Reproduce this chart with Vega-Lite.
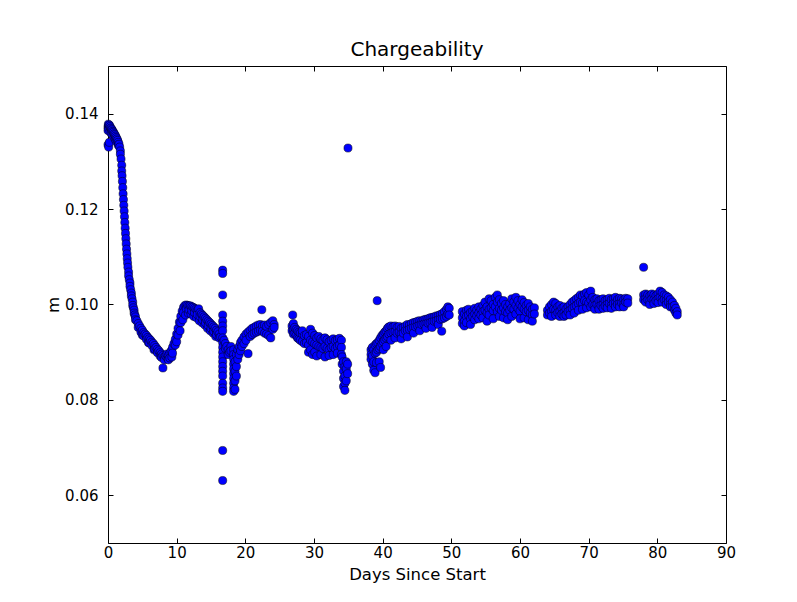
{
"$schema": "https://vega.github.io/schema/vega-lite/v6.json",
"width": 618,
"height": 477,
"autosize": {"type": "none"},
"padding": {"left": 108, "top": 66, "right": 71, "bottom": 59},
"background": "white",
"title": {"text": "Chargeability", "fontSize": 20, "font": "DejaVu Sans", "fontWeight": "normal", "color": "black", "offset": 6},
"config": {
  "view": {"stroke": "black", "strokeWidth": 1},
  "axis": {"domain": false, "grid": false, "labelFlush": false, "labelOverlap": false, "tickColor": "black", "tickSize": -5, "tickWidth": 1, "labelColor": "black", "labelFont": "DejaVu Sans", "labelFontSize": 15, "titleFont": "DejaVu Sans", "titleFontSize": 16.5, "titleFontWeight": "normal", "titleColor": "black"}
},
"data": {"values": [
{"d":0.0,"m":0.1372},{"d":0.0,"m":0.1365},{"d":0.0,"m":0.1335},{"d":0.05,"m":0.1378},{"d":0.1,"m":0.1375},{"d":0.1,"m":0.1330},{"d":0.15,"m":0.1369},{"d":0.2,"m":0.1376},{"d":0.2,"m":0.1340},{"d":0.3,"m":0.1373},{"d":0.3,"m":0.1362},{"d":0.4,"m":0.1370},{"d":0.5,"m":0.1368},{"d":0.5,"m":0.1358},{"d":0.6,"m":0.1366},{"d":0.7,"m":0.1363},{"d":0.7,"m":0.1355},{"d":0.8,"m":0.1361},{"d":0.9,"m":0.1358},{"d":0.9,"m":0.1350},{"d":1.0,"m":0.1356},{"d":1.1,"m":0.1353},{"d":1.1,"m":0.1345},{"d":1.2,"m":0.1350},{"d":1.3,"m":0.1347},{"d":1.3,"m":0.1340},{"d":1.4,"m":0.1344},{"d":1.5,"m":0.1340},{"d":1.5,"m":0.1334},{"d":1.6,"m":0.1336},{"d":1.7,"m":0.1330},{"d":1.8,"m":0.1322},{"d":1.8,"m":0.1315},{"d":1.9,"m":0.1305},{"d":2.0,"m":0.1292},{"d":2.0,"m":0.1280},{"d":2.05,"m":0.1270},{"d":2.1,"m":0.1258},{"d":2.15,"m":0.1245},{"d":2.2,"m":0.1232},{"d":2.25,"m":0.1220},{"d":2.3,"m":0.1208},{"d":2.35,"m":0.1196},{"d":2.4,"m":0.1184},{"d":2.45,"m":0.1172},{"d":2.5,"m":0.1160},{"d":2.55,"m":0.1149},{"d":2.6,"m":0.1138},{"d":2.65,"m":0.1127},{"d":2.7,"m":0.1116},{"d":2.75,"m":0.1106},{"d":2.8,"m":0.1096},{"d":2.85,"m":0.1087},{"d":2.9,"m":0.1078},{"d":3.0,"m":0.1068},{"d":3.0,"m":0.1060},{"d":3.1,"m":0.1052},{"d":3.2,"m":0.1045},{"d":3.2,"m":0.1038},{"d":3.3,"m":0.1031},{"d":3.4,"m":0.1024},{"d":3.4,"m":0.1018},{"d":3.5,"m":0.1012},{"d":3.6,"m":0.1005},{"d":3.6,"m":0.0998},{"d":3.7,"m":0.0993},{"d":3.8,"m":0.0988},{"d":3.8,"m":0.0982},{"d":3.9,"m":0.0978},{"d":4.0,"m":0.0974},{"d":4.0,"m":0.0968},{"d":4.2,"m":0.0966},{"d":4.4,"m":0.0960},{"d":4.4,"m":0.0952},{"d":4.6,"m":0.0955},{"d":4.8,"m":0.0950},{"d":4.8,"m":0.0942},{"d":5.0,"m":0.0946},{"d":5.0,"m":0.0936},{"d":5.2,"m":0.0941},{"d":5.2,"m":0.0934},{"d":5.4,"m":0.0938},{"d":5.6,"m":0.0935},{"d":5.6,"m":0.0927},{"d":5.8,"m":0.0931},{"d":5.9,"m":0.0920},{"d":6.0,"m":0.0928},{"d":6.0,"m":0.0920},{"d":6.2,"m":0.0925},{"d":6.4,"m":0.0921},{"d":6.4,"m":0.0914},{"d":6.6,"m":0.0918},{"d":6.7,"m":0.0905},{"d":6.8,"m":0.0914},{"d":6.8,"m":0.0907},{"d":7.0,"m":0.0910},{"d":7.2,"m":0.0906},{"d":7.2,"m":0.0899},{"d":7.4,"m":0.0903},{"d":7.6,"m":0.0899},{"d":7.6,"m":0.0892},{"d":7.8,"m":0.0896},{"d":7.8,"m":0.0889},{"d":8.0,"m":0.0893},{"d":8.0,"m":0.0867},{"d":8.2,"m":0.0890},{"d":8.2,"m":0.0884},{"d":8.4,"m":0.0892},{"d":8.6,"m":0.0889},{"d":8.6,"m":0.0896},{"d":8.8,"m":0.0893},{"d":8.8,"m":0.0884},{"d":9.0,"m":0.0898},{"d":9.0,"m":0.0888},{"d":9.2,"m":0.0903},{"d":9.3,"m":0.0890},{"d":9.4,"m":0.0910},{"d":9.4,"m":0.0898},{"d":9.6,"m":0.0918},{"d":9.8,"m":0.0927},{"d":9.8,"m":0.0915},{"d":10.0,"m":0.0938},{"d":10.0,"m":0.0922},{"d":10.2,"m":0.0950},{"d":10.2,"m":0.0936},{"d":10.4,"m":0.0963},{"d":10.5,"m":0.0945},{"d":10.6,"m":0.0975},{"d":10.6,"m":0.0962},{"d":10.8,"m":0.0986},{"d":10.9,"m":0.0968},{"d":11.0,"m":0.0994},{"d":11.0,"m":0.0983},{"d":11.2,"m":0.0998},{"d":11.3,"m":0.0978},{"d":11.4,"m":0.0999},{"d":11.4,"m":0.0991},{"d":11.6,"m":0.0998},{"d":11.7,"m":0.0982},{"d":11.8,"m":0.0997},{"d":11.8,"m":0.0989},{"d":12.0,"m":0.0997},{"d":12.1,"m":0.0980},{"d":12.2,"m":0.0995},{"d":12.2,"m":0.0987},{"d":12.4,"m":0.0994},{"d":12.5,"m":0.0975},{"d":12.6,"m":0.0992},{"d":12.6,"m":0.0983},{"d":12.8,"m":0.0990},{"d":12.9,"m":0.0972},{"d":13.0,"m":0.0988},{"d":13.0,"m":0.0979},{"d":13.2,"m":0.0991},{"d":13.3,"m":0.0966},{"d":13.4,"m":0.0983},{"d":13.4,"m":0.0975},{"d":13.6,"m":0.0980},{"d":13.7,"m":0.0962},{"d":13.8,"m":0.0977},{"d":13.8,"m":0.0968},{"d":14.0,"m":0.0974},{"d":14.1,"m":0.0957},{"d":14.2,"m":0.0971},{"d":14.2,"m":0.0962},{"d":14.4,"m":0.0968},{"d":14.5,"m":0.0950},{"d":14.6,"m":0.0965},{"d":14.6,"m":0.0956},{"d":14.8,"m":0.0962},{"d":14.9,"m":0.0945},{"d":15.0,"m":0.0959},{"d":15.0,"m":0.0950},{"d":15.2,"m":0.0956},{"d":15.3,"m":0.0940},{"d":15.4,"m":0.0953},{"d":15.4,"m":0.0944},{"d":15.6,"m":0.0950},{"d":15.7,"m":0.0933},{"d":15.8,"m":0.0946},{"d":15.8,"m":0.0937},{"d":16.0,"m":0.0943},{"d":16.2,"m":0.0938},{"d":16.2,"m":0.0930},{"d":16.4,"m":0.0932},
{"d":16.7,"m":0.1072},{"d":16.7,"m":0.1065},{"d":16.7,"m":0.1020},{"d":16.7,"m":0.0978},{"d":16.7,"m":0.0965},{"d":16.7,"m":0.0955},{"d":16.7,"m":0.0945},{"d":16.7,"m":0.0930},{"d":16.7,"m":0.0920},{"d":16.7,"m":0.0910},{"d":16.7,"m":0.0900},{"d":16.7,"m":0.0890},{"d":16.7,"m":0.0880},{"d":16.7,"m":0.0870},{"d":16.7,"m":0.0860},{"d":16.7,"m":0.0850},{"d":16.7,"m":0.0835},{"d":16.7,"m":0.0825},{"d":16.7,"m":0.0818},{"d":16.7,"m":0.0694},{"d":16.7,"m":0.0631},
{"d":16.9,"m":0.0925},{"d":17.1,"m":0.0918},{"d":17.1,"m":0.0908},{"d":17.3,"m":0.0912},{"d":17.5,"m":0.0905},{"d":17.5,"m":0.0895},{"d":17.7,"m":0.0900},{"d":17.9,"m":0.0912},{"d":17.9,"m":0.0903},
{"d":18.3,"m":0.0905},{"d":18.3,"m":0.0895},{"d":18.3,"m":0.0885},{"d":18.3,"m":0.0875},{"d":18.3,"m":0.0865},{"d":18.3,"m":0.0855},{"d":18.3,"m":0.0845},{"d":18.3,"m":0.0835},{"d":18.3,"m":0.0825},{"d":18.3,"m":0.0818},{"d":18.5,"m":0.0880},{"d":18.5,"m":0.0860},{"d":18.5,"m":0.0840},{"d":18.5,"m":0.0822},{"d":18.7,"m":0.0895},{"d":18.7,"m":0.0870},{"d":18.7,"m":0.0850},{"d":18.9,"m":0.0905},{"d":18.9,"m":0.0885},{"d":19.1,"m":0.0912},{"d":19.1,"m":0.0895},{"d":19.3,"m":0.0920},{"d":19.3,"m":0.0903},
{"d":19.5,"m":0.0925},{"d":19.5,"m":0.0912},{"d":19.8,"m":0.0932},{"d":19.8,"m":0.0918},{"d":20.1,"m":0.0938},{"d":20.1,"m":0.0925},{"d":20.4,"m":0.0942},{"d":20.4,"m":0.0897},{"d":20.7,"m":0.0946},{"d":20.7,"m":0.0933},{"d":21.0,"m":0.0950},{"d":21.0,"m":0.0937},{"d":21.3,"m":0.0952},{"d":21.3,"m":0.0940},{"d":21.6,"m":0.0955},{"d":21.6,"m":0.0942},{"d":21.9,"m":0.0957},{"d":21.9,"m":0.0944},{"d":22.2,"m":0.0958},{"d":22.2,"m":0.0946},{"d":22.4,"m":0.0989},{"d":22.5,"m":0.0955},{"d":22.5,"m":0.0944},{"d":22.8,"m":0.0957},{"d":22.8,"m":0.0940},{"d":23.1,"m":0.0954},{"d":23.1,"m":0.0938},{"d":23.4,"m":0.0958},{"d":23.4,"m":0.0935},{"d":23.7,"m":0.0962},{"d":23.7,"m":0.0930},{"d":24.0,"m":0.0966},{"d":24.0,"m":0.0948},{"d":24.2,"m":0.0958},{"d":24.2,"m":0.0952},
{"d":26.9,"m":0.0978},{"d":26.8,"m":0.0955},{"d":26.8,"m":0.0945},{"d":27.0,"m":0.0960},{"d":27.0,"m":0.0948},{"d":27.0,"m":0.0938},{"d":27.2,"m":0.0952},{"d":27.2,"m":0.0940},{"d":27.4,"m":0.0948},{"d":27.4,"m":0.0935},{"d":27.6,"m":0.0945},{"d":27.6,"m":0.0930},{"d":27.8,"m":0.0942},{"d":27.8,"m":0.0928},{"d":28.0,"m":0.0940},{"d":28.0,"m":0.0925},{"d":28.3,"m":0.0938},{"d":28.3,"m":0.0922},{"d":28.3,"m":0.0945},{"d":28.6,"m":0.0935},{"d":28.6,"m":0.0918},{"d":28.9,"m":0.0937},{"d":28.9,"m":0.0920},{"d":29.2,"m":0.0933},{"d":29.2,"m":0.0915},{"d":29.2,"m":0.0900},{"d":29.5,"m":0.0948},{"d":29.5,"m":0.0925},{"d":29.5,"m":0.0905},{"d":29.8,"m":0.0940},{"d":29.8,"m":0.0922},{"d":29.8,"m":0.0895},{"d":30.1,"m":0.0935},{"d":30.1,"m":0.0918},{"d":30.1,"m":0.0900},{"d":30.4,"m":0.0930},{"d":30.4,"m":0.0915},{"d":30.4,"m":0.0892},{"d":30.7,"m":0.0933},{"d":30.7,"m":0.0912},{"d":31.0,"m":0.0928},{"d":31.0,"m":0.0910},{"d":31.0,"m":0.0895},{"d":31.3,"m":0.0925},{"d":31.3,"m":0.0908},{"d":31.6,"m":0.0930},{"d":31.6,"m":0.0912},{"d":31.6,"m":0.0890},{"d":31.9,"m":0.0926},{"d":31.9,"m":0.0908},{"d":32.2,"m":0.0922},{"d":32.2,"m":0.0905},{"d":32.2,"m":0.0893},{"d":32.5,"m":0.0925},{"d":32.5,"m":0.0910},{"d":32.8,"m":0.0928},{"d":32.8,"m":0.0912},{"d":32.8,"m":0.0895},{"d":33.1,"m":0.0924},{"d":33.1,"m":0.0908},{"d":33.4,"m":0.0926},{"d":33.4,"m":0.0912},{"d":33.4,"m":0.0898},{"d":33.7,"m":0.0929},{"d":33.7,"m":0.0915},{"d":34.0,"m":0.0925},{"d":34.0,"m":0.0910},{"d":34.0,"m":0.0895},
{"d":34.1,"m":0.0890},{"d":34.1,"m":0.0875},{"d":34.3,"m":0.0880},{"d":34.3,"m":0.0860},{"d":34.3,"m":0.0845},{"d":34.3,"m":0.0828},{"d":34.5,"m":0.0870},{"d":34.5,"m":0.0850},{"d":34.5,"m":0.0835},{"d":34.5,"m":0.0820},{"d":34.7,"m":0.0880},{"d":34.7,"m":0.0865},{"d":34.7,"m":0.0840},{"d":34.9,"m":0.0875},{"d":34.9,"m":0.0855},{"d":34.95,"m":0.1328},
{"d":38.3,"m":0.0905},{"d":38.3,"m":0.0895},{"d":38.3,"m":0.0885},{"d":38.5,"m":0.0910},{"d":38.5,"m":0.0892},{"d":38.5,"m":0.0875},{"d":38.7,"m":0.0905},{"d":38.7,"m":0.0880},{"d":38.7,"m":0.0862},{"d":38.9,"m":0.0915},{"d":38.9,"m":0.0898},{"d":38.9,"m":0.0857},{"d":39.1,"m":0.0918},{"d":39.1,"m":0.0900},{"d":39.1,"m":0.0878},{"d":39.2,"m":0.1008},{"d":39.3,"m":0.0920},{"d":39.3,"m":0.0905},{"d":39.5,"m":0.0925},{"d":39.5,"m":0.0908},{"d":39.5,"m":0.0880},{"d":39.7,"m":0.0930},{"d":39.7,"m":0.0912},{"d":39.7,"m":0.0868},{"d":39.9,"m":0.0935},{"d":39.9,"m":0.0918},{"d":40.1,"m":0.0938},{"d":40.1,"m":0.0922},{"d":40.1,"m":0.0905},{"d":40.3,"m":0.0942},{"d":40.3,"m":0.0926},{"d":40.5,"m":0.0945},{"d":40.5,"m":0.0930},{"d":40.5,"m":0.0912},{"d":40.7,"m":0.0950},{"d":40.7,"m":0.0933},{"d":40.9,"m":0.0953},{"d":40.9,"m":0.0938},{"d":41.2,"m":0.0955},{"d":41.2,"m":0.0940},{"d":41.2,"m":0.0925},{"d":41.5,"m":0.0953},{"d":41.5,"m":0.0942},{"d":41.8,"m":0.0955},{"d":41.8,"m":0.0943},{"d":41.8,"m":0.0930},{"d":42.1,"m":0.0952},{"d":42.1,"m":0.0940},{"d":42.4,"m":0.0954},{"d":42.4,"m":0.0942},{"d":42.7,"m":0.0950},{"d":42.7,"m":0.0938},{"d":42.7,"m":0.0928},{"d":43.0,"m":0.0952},{"d":43.0,"m":0.0940},{"d":43.3,"m":0.0955},{"d":43.3,"m":0.0945},{"d":43.6,"m":0.0958},{"d":43.6,"m":0.0946},{"d":43.6,"m":0.0932},{"d":43.9,"m":0.0957},{"d":43.9,"m":0.0948},{"d":44.2,"m":0.0960},{"d":44.2,"m":0.0950},{"d":44.5,"m":0.0962},{"d":44.5,"m":0.0952},{"d":44.5,"m":0.0940},{"d":44.8,"m":0.0963},{"d":44.8,"m":0.0953},{"d":45.1,"m":0.0965},{"d":45.1,"m":0.0955},{"d":45.4,"m":0.0966},{"d":45.4,"m":0.0957},{"d":45.4,"m":0.0945},{"d":45.7,"m":0.0965},{"d":45.7,"m":0.0958},{"d":46.0,"m":0.0968},{"d":46.0,"m":0.0959},{"d":46.3,"m":0.0969},{"d":46.3,"m":0.0960},{"d":46.3,"m":0.0950},{"d":46.6,"m":0.0970},{"d":46.6,"m":0.0961},{"d":46.9,"m":0.0972},{"d":46.9,"m":0.0962},{"d":47.2,"m":0.0973},{"d":47.2,"m":0.0964},{"d":47.2,"m":0.0952},{"d":47.5,"m":0.0974},{"d":47.5,"m":0.0965},{"d":47.8,"m":0.0976},{"d":47.8,"m":0.0966},{"d":48.1,"m":0.0977},{"d":48.1,"m":0.0968},{"d":48.1,"m":0.0958},{"d":48.4,"m":0.0979},{"d":48.4,"m":0.0969},{"d":48.6,"m":0.0944},{"d":48.7,"m":0.0981},{"d":48.7,"m":0.0970},{"d":49.0,"m":0.0985},{"d":49.0,"m":0.0972},{"d":49.3,"m":0.0990},{"d":49.3,"m":0.0975},{"d":49.5,"m":0.0995},{"d":49.5,"m":0.0980},{"d":49.7,"m":0.0992},{"d":49.7,"m":0.0978},
{"d":51.6,"m":0.0985},{"d":51.6,"m":0.0972},{"d":51.6,"m":0.0960},{"d":51.9,"m":0.0980},{"d":51.9,"m":0.0965},{"d":51.9,"m":0.0955},{"d":52.2,"m":0.0988},{"d":52.2,"m":0.0975},{"d":52.2,"m":0.0962},{"d":52.5,"m":0.0990},{"d":52.5,"m":0.0978},{"d":52.8,"m":0.0983},{"d":52.8,"m":0.0970},{"d":52.8,"m":0.0958},{"d":53.1,"m":0.0986},{"d":53.1,"m":0.0975},{"d":53.4,"m":0.0992},{"d":53.4,"m":0.0980},{"d":53.4,"m":0.0968},{"d":53.7,"m":0.0988},{"d":53.7,"m":0.0976},{"d":54.0,"m":0.0995},{"d":54.0,"m":0.0982},{"d":54.0,"m":0.0970},{"d":54.3,"m":0.0990},{"d":54.3,"m":0.0978},{"d":54.6,"m":0.0998},{"d":54.6,"m":0.0985},{"d":54.6,"m":0.0972},{"d":54.9,"m":0.1005},{"d":54.9,"m":0.0988},{"d":55.2,"m":0.0995},{"d":55.2,"m":0.0982},{"d":55.2,"m":0.0965},{"d":55.5,"m":0.1012},{"d":55.5,"m":0.0990},{"d":55.5,"m":0.0978},{"d":55.8,"m":0.1008},{"d":55.8,"m":0.0993},{"d":56.1,"m":0.1000},{"d":56.1,"m":0.0987},{"d":56.1,"m":0.0970},{"d":56.4,"m":0.1015},{"d":56.4,"m":0.0995},{"d":56.7,"m":0.1020},{"d":56.7,"m":0.1005},{"d":56.7,"m":0.0985},{"d":57.0,"m":0.1010},{"d":57.0,"m":0.0992},{"d":57.0,"m":0.0975},{"d":57.3,"m":0.1002},{"d":57.3,"m":0.0988},{"d":57.6,"m":0.1008},{"d":57.6,"m":0.0993},{"d":57.6,"m":0.0972},{"d":57.9,"m":0.1000},{"d":57.9,"m":0.0985},{"d":58.2,"m":0.0995},{"d":58.2,"m":0.0982},{"d":58.2,"m":0.0968},{"d":58.5,"m":0.1002},{"d":58.5,"m":0.0988},{"d":58.8,"m":0.1012},{"d":58.8,"m":0.0993},{"d":58.8,"m":0.0975},{"d":59.1,"m":0.1005},{"d":59.1,"m":0.0990},{"d":59.4,"m":0.1015},{"d":59.4,"m":0.0998},{"d":59.4,"m":0.0980},{"d":59.7,"m":0.1008},{"d":59.7,"m":0.0992},{"d":60.0,"m":0.1000},{"d":60.0,"m":0.0986},{"d":60.0,"m":0.0970},{"d":60.3,"m":0.1010},{"d":60.3,"m":0.0995},{"d":60.6,"m":0.1004},{"d":60.6,"m":0.0990},{"d":60.6,"m":0.0972},{"d":60.9,"m":0.0998},{"d":60.9,"m":0.0985},{"d":61.2,"m":0.1002},{"d":61.2,"m":0.0988},{"d":61.2,"m":0.0968},{"d":61.5,"m":0.0995},{"d":61.5,"m":0.0982},{"d":61.8,"m":0.0990},{"d":61.8,"m":0.0978},{"d":61.8,"m":0.0965},{"d":62.1,"m":0.0993},{"d":62.1,"m":0.0980},
{"d":64.0,"m":0.0988},{"d":64.0,"m":0.0978},{"d":64.3,"m":0.0995},{"d":64.3,"m":0.0982},{"d":64.6,"m":0.1000},{"d":64.6,"m":0.0985},{"d":64.6,"m":0.0975},{"d":64.9,"m":0.1005},{"d":64.9,"m":0.0990},{"d":65.2,"m":0.1002},{"d":65.2,"m":0.0988},{"d":65.2,"m":0.0978},{"d":65.5,"m":0.0995},{"d":65.5,"m":0.0983},{"d":65.8,"m":0.0998},{"d":65.8,"m":0.0985},{"d":65.8,"m":0.0975},{"d":66.1,"m":0.0992},{"d":66.1,"m":0.0980},{"d":66.4,"m":0.0995},{"d":66.4,"m":0.0983},{"d":66.4,"m":0.0975},{"d":66.7,"m":0.0990},{"d":66.7,"m":0.0978},{"d":67.0,"m":0.0995},{"d":67.0,"m":0.0985},{"d":67.3,"m":0.1000},{"d":67.3,"m":0.0988},{"d":67.3,"m":0.0978},{"d":67.6,"m":0.1005},{"d":67.6,"m":0.0992},{"d":67.9,"m":0.1008},{"d":67.9,"m":0.0995},{"d":67.9,"m":0.0982},{"d":68.2,"m":0.1012},{"d":68.2,"m":0.0998},{"d":68.5,"m":0.1015},{"d":68.5,"m":0.1002},{"d":68.5,"m":0.0988},{"d":68.8,"m":0.1020},{"d":68.8,"m":0.1005},{"d":69.1,"m":0.1018},{"d":69.1,"m":0.1003},{"d":69.1,"m":0.0990},{"d":69.4,"m":0.1022},{"d":69.4,"m":0.1008},{"d":69.7,"m":0.1025},{"d":69.7,"m":0.1005},{"d":69.7,"m":0.0993},{"d":70.0,"m":0.1020},{"d":70.0,"m":0.1003},{"d":70.3,"m":0.1028},{"d":70.3,"m":0.1010},{"d":70.3,"m":0.0995},{"d":70.6,"m":0.1015},{"d":70.6,"m":0.1000},{"d":70.9,"m":0.1010},{"d":70.9,"m":0.0998},{"d":70.9,"m":0.0990},{"d":71.2,"m":0.1012},{"d":71.2,"m":0.1000},{"d":71.5,"m":0.1008},{"d":71.5,"m":0.0996},{"d":71.5,"m":0.0990},{"d":71.8,"m":0.1010},{"d":71.8,"m":0.0998},{"d":72.1,"m":0.1012},{"d":72.1,"m":0.1000},{"d":72.1,"m":0.0992},{"d":72.4,"m":0.1008},{"d":72.4,"m":0.0997},{"d":72.7,"m":0.1010},{"d":72.7,"m":0.1000},{"d":72.7,"m":0.0993},{"d":73.0,"m":0.1013},{"d":73.0,"m":0.1002},{"d":73.3,"m":0.1010},{"d":73.3,"m":0.0998},{"d":73.3,"m":0.0992},{"d":73.6,"m":0.1012},{"d":73.6,"m":0.1002},{"d":73.9,"m":0.1015},{"d":73.9,"m":0.1003},{"d":73.9,"m":0.0995},{"d":74.2,"m":0.1010},{"d":74.2,"m":0.1000},{"d":74.5,"m":0.1013},{"d":74.5,"m":0.1002},{"d":74.5,"m":0.0995},{"d":74.8,"m":0.1012},{"d":74.8,"m":0.1003},{"d":75.1,"m":0.1010},{"d":75.1,"m":0.1000},{"d":75.1,"m":0.0995},{"d":75.4,"m":0.1013},{"d":75.4,"m":0.1005},{"d":75.7,"m":0.1012},{"d":75.7,"m":0.1003},
{"d":78.0,"m":0.1078},{"d":78.0,"m":0.1020},{"d":78.0,"m":0.1010},{"d":78.3,"m":0.1022},{"d":78.3,"m":0.1012},{"d":78.3,"m":0.1005},{"d":78.6,"m":0.1020},{"d":78.6,"m":0.1010},{"d":78.9,"m":0.1018},{"d":78.9,"m":0.1008},{"d":78.9,"m":0.1000},{"d":79.2,"m":0.1022},{"d":79.2,"m":0.1012},{"d":79.5,"m":0.1020},{"d":79.5,"m":0.1010},{"d":79.5,"m":0.1002},{"d":79.8,"m":0.1018},{"d":79.8,"m":0.1008},{"d":80.1,"m":0.1022},{"d":80.1,"m":0.1012},{"d":80.1,"m":0.1004},{"d":80.4,"m":0.1028},{"d":80.4,"m":0.1015},{"d":80.7,"m":0.1025},{"d":80.7,"m":0.1012},{"d":80.7,"m":0.1005},{"d":81.0,"m":0.1020},{"d":81.0,"m":0.1010},{"d":81.3,"m":0.1018},{"d":81.3,"m":0.1008},{"d":81.3,"m":0.1000},{"d":81.6,"m":0.1015},{"d":81.6,"m":0.1005},{"d":81.9,"m":0.1010},{"d":81.9,"m":0.1000},{"d":81.9,"m":0.0995},{"d":82.2,"m":0.1005},{"d":82.2,"m":0.0995},{"d":82.5,"m":0.0998},{"d":82.5,"m":0.0988},{"d":82.7,"m":0.0992},{"d":82.7,"m":0.0982},{"d":82.9,"m":0.0985},{"d":82.9,"m":0.0978}
]},
"layer": [
  {
    "mark": {"type": "point", "filled": true, "fill": "#0000ff", "stroke": "black", "strokeWidth": 0.5, "size": 66, "opacity": 1},
    "encoding": {
      "x": {"field": "d", "type": "quantitative", "scale": {"domain": [0, 90], "nice": false, "zero": false}, "axis": {"title": "Days Since Start", "values": [0, 10, 20, 30, 40, 50, 60, 70, 80, 90], "labelPadding": 7, "titlePadding": 6}},
      "y": {"field": "m", "type": "quantitative", "scale": {"domain": [0.05, 0.15], "nice": false, "zero": false}, "axis": {"title": "m", "values": [0.06, 0.08, 0.1, 0.12, 0.14], "format": ".2f", "labelPadding": 15, "titlePadding": 3}}
    }
  },
  {
    "mark": {"type": "point", "opacity": 0},
    "encoding": {
      "x": {"field": "d", "type": "quantitative", "scale": {"domain": [0, 90], "nice": false, "zero": false}, "axis": {"orient": "top", "title": null, "labels": false, "values": [0, 10, 20, 30, 40, 50, 60, 70, 80, 90]}},
      "y": {"field": "m", "type": "quantitative", "scale": {"domain": [0.05, 0.15], "nice": false, "zero": false}, "axis": {"orient": "right", "title": null, "labels": false, "values": [0.06, 0.08, 0.1, 0.12, 0.14]}}
    }
  }
],
"resolve": {"axis": {"x": "independent", "y": "independent"}}
}
